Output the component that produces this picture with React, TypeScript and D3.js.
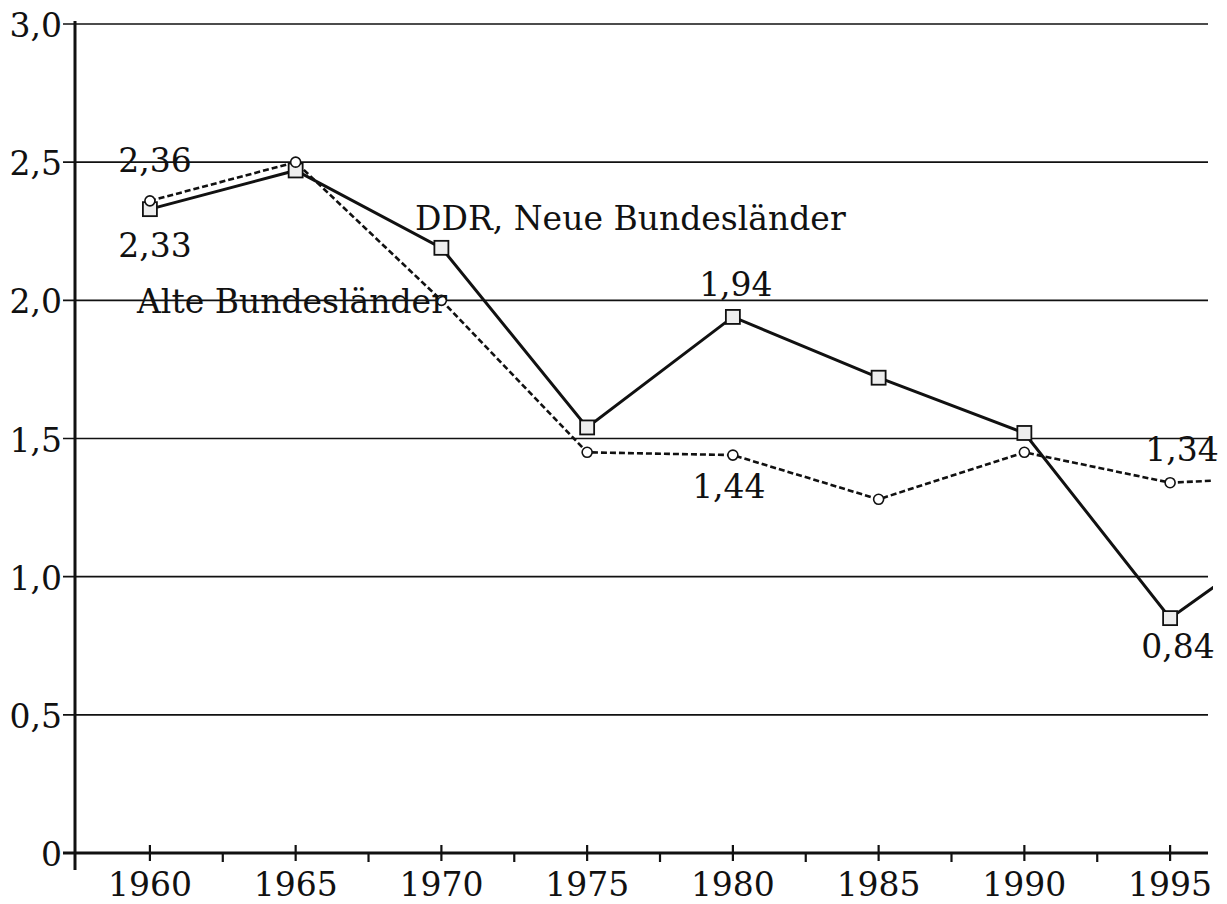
import React from 'react';
import * as d3 from 'd3';

const years = [1960, 1965, 1970, 1975, 1980, 1985, 1990, 1995, 1997];
const alte = [2.36, 2.5, 2.0, 1.45, 1.44, 1.28, 1.45, 1.34, 1.35];
const ddr = [2.33, 2.47, 2.19, 1.54, 1.94, 1.72, 1.52, 0.85, 1.0];
const markerYears = [1960, 1965, 1970, 1975, 1980, 1985, 1990, 1995];
const yTicks = [0, 0.5, 1.0, 1.5, 2.0, 2.5, 3.0];
const xLabelYears = [1960, 1965, 1970, 1975, 1980, 1985, 1990, 1995];
const xMinorYears = [1962.5, 1967.5, 1972.5, 1977.5, 1982.5, 1987.5, 1992.5];

// value labels: [text, year, value, dx, dy]
const annotations: [string, number, number, number, number][] = [
  ['2,36', 1960, 2.36, 5, -29],
  ['2,33', 1960, 2.33, 5, 48],
  ['1,94', 1980, 1.94, 3, -21],
  ['1,44', 1980, 1.44, -4, 43],
  ['1,34', 1995, 1.34, 12, -22],
  ['0,84', 1995, 0.85, 8, 40],
];
const seriesLabels: [string, number, number][] = [
  ['DDR, Neue Bundesländer', 415, 230],
  ['Alte Bundesländer', 137, 313],
];

const W = 1227;
const H = 904;
const font = '"DejaVu Serif", serif';
const fs = 33;

export default function App() {
  const x = d3.scaleLinear().domain([1957.43, 1996.3]).range([75, 1208]);
  const y = d3.scaleLinear().domain([0, 3]).range([853, 24]);
  const fmt = (v: number) => (v === 0 ? '0' : d3.format('.1f')(v).replace('.', ','));

  const line = d3
    .line<number>()
    .x((d, i) => x(years[i]))
    .y((d) => y(d));

  return (
    <svg width={W} height={H} style={{ position: 'absolute', left: 0, top: 0, background: '#fff' }}>
      <defs>
        <clipPath id="plot">
          <rect x={75} y={0} width={1138} height={860} />
        </clipPath>
      </defs>
      {yTicks.map((t) => (
        <g key={t}>
          {t > 0 && <line x1={63} x2={1208} y1={y(t)} y2={y(t)} stroke="#111" strokeWidth={1.6} />}
          <text x={62} y={y(t) + 13} textAnchor="end" fontFamily={font} fontSize={fs} fill="#111">
            {fmt(t)}
          </text>
        </g>
      ))}
      <line x1={63} x2={1208} y1={y(0)} y2={y(0)} stroke="#111" strokeWidth={3} />
      <line x1={75} x2={75} y1={21} y2={870} stroke="#111" strokeWidth={3} />
      {xLabelYears.map((yr) => (
        <g key={yr}>
          <line x1={x(yr)} x2={x(yr)} y1={y(0) - 8} y2={y(0) + 8} stroke="#111" strokeWidth={2.2} />
          <text x={x(yr)} y={896} textAnchor="middle" fontFamily={font} fontSize={fs} fill="#111">
            {yr}
          </text>
        </g>
      ))}
      {xMinorYears.map((yr) => (
        <line key={yr} x1={x(yr)} x2={x(yr)} y1={y(0)} y2={y(0) + 9} stroke="#111" strokeWidth={2.2} />
      ))}
      <g clipPath="url(#plot)">
        <path d={line(alte) || ''} fill="none" stroke="#111" strokeWidth={2.6} strokeDasharray="6,3" />
        <path d={line(ddr) || ''} fill="none" stroke="#111" strokeWidth={3} />
      </g>
      {markerYears.map((yr, i) => (
        <rect
          key={'s' + yr}
          x={x(yr) - 7}
          y={y(ddr[i]) - 7}
          width={14}
          height={14}
          fill="#eee"
          stroke="#111"
          strokeWidth={1.8}
        />
      ))}
      {markerYears.map((yr, i) => (
        <circle key={'c' + yr} cx={x(yr)} cy={y(alte[i])} r={5} fill="#fff" stroke="#111" strokeWidth={1.6} />
      ))}
      {annotations.map(([t, yr, v, dx, dy]) => (
        <text
          key={t}
          x={x(yr) + dx}
          y={y(v) + dy}
          textAnchor="middle"
          fontFamily={font}
          fontSize={fs}
          fill="#111"
        >
          {t}
        </text>
      ))}
      {seriesLabels.map(([t, lx, ly]) => (
        <text key={t} x={lx} y={ly} fontFamily={font} fontSize={fs} fill="#111">
          {t}
        </text>
      ))}
    </svg>
  );
}
